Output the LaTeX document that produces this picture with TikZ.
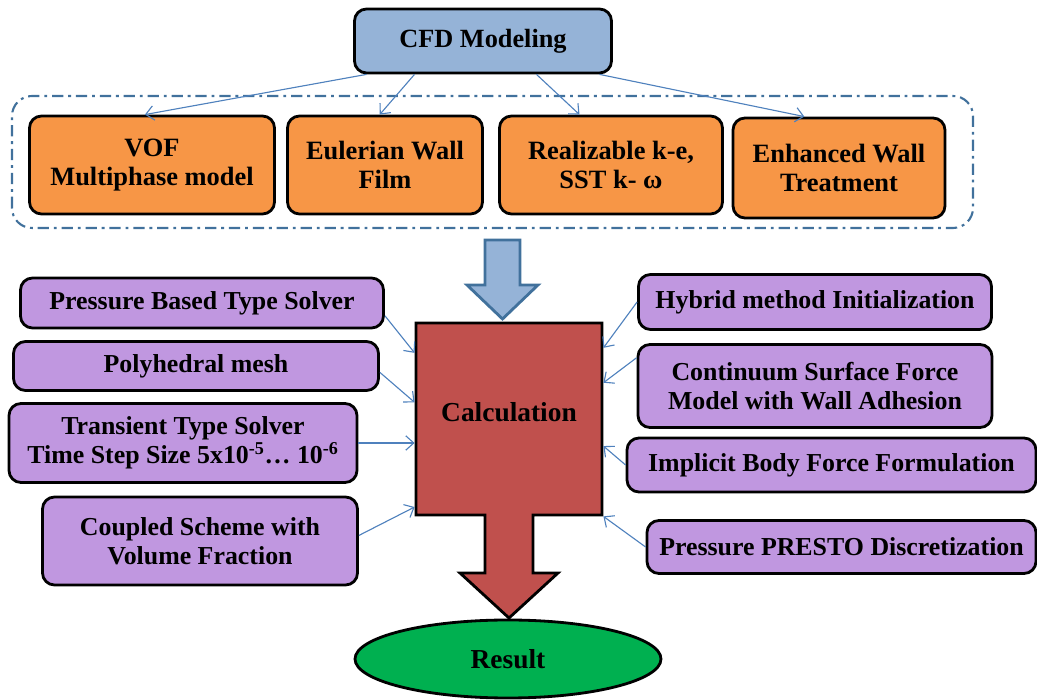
\documentclass[tikz,border=0pt]{standalone}
\usepackage{fontspec}
\setmainfont{Liberation Serif}
\usetikzlibrary{positioning,arrows.meta,shapes.geometric}
\definecolor{cfdblue}{HTML}{95B3D7}
\definecolor{edgeblue}{HTML}{41719C}
\definecolor{linkblue}{HTML}{4F81BD}
\definecolor{modorange}{HTML}{F79646}
\definecolor{setpurple}{HTML}{C097E0}
\definecolor{calcred}{HTML}{C0504D}
\definecolor{resgreen}{HTML}{00B050}
\tikzset{
  box/.style={draw=black, line width=2pt, rounded corners=0.3cm, align=center,
    inner sep=2pt, font=\fontsize{18.4}{20.5}\selectfont\bfseries},
  modelbox/.style={box, fill=modorange, minimum height=2.45cm,
    font=\fontsize{18.8}{20.5}\selectfont\bfseries},
  setbox/.style={box, fill=setpurple},
  feed/.style={-{Straight Barb[length=2mm,width=3.6mm]}, line width=0.8pt, linkblue},
}

\begin{document}
\begin{tikzpicture}
  \useasboundingbox (0,0) rectangle (25.925,17.5);
  % group of physical models
  \draw[edgeblue, line width=1.5pt, rounded corners=0.5cm,
    dash pattern=on 8pt off 3.5pt on 2pt off 3.5pt] (0.3,11.8) rectangle (24.325,15.1);
  \node[box, fill=cfdblue, minimum width=6.425cm, minimum height=1.6cm,
    font=\fontsize{18.7}{20.5}\selectfont\bfseries] (cfd) at (12.075,16.475) {CFD Modeling};
  \node[modelbox, minimum width=6.125cm] (vof) at (3.8,13.375) {VOF\\Multiphase model};
  \node[modelbox, minimum width=4.875cm] (wallfilm) at (9.625,13.375) {Eulerian Wall\\Film};
  \node[modelbox, minimum width=5.575cm] (turb) at (15.275,13.375) {Realizable k-e,\\SST k- ω};
  \node[modelbox, minimum width=5.3cm, minimum height=2.5cm] (walltreat) at (20.975,13.3) {Enhanced Wall\\Treatment};
  \draw[feed] (cfd.196.5) -- (vof.98);
  \draw[feed] (cfd.206.9) -- (wallfilm.96);
  \draw[feed] (cfd.328.4) -- (turb.122);
  \draw[feed] (cfd.344.7) -- (walltreat.124);
  % big arrow down to the solver
  \draw[edgeblue, line width=2pt, fill=cfdblue, line join=miter]
    (12.125,11.5) -- (13.0,11.5) -- (13.0,10.375) -- (13.45,10.375) -- (12.5625,9.525)
    -- (11.675,10.375) -- (12.125,10.375) -- cycle;
  % calculation block with its arrow
  \draw[black, line width=2pt, fill=calcred, line join=miter]
    (10.4,9.425) -- (15.05,9.425) -- (15.05,4.625) -- (13.325,4.625) -- (13.325,3.175)
    -- (13.95,3.175) -- (12.725,2.05) -- (11.5,3.175) -- (12.125,3.175) -- (12.125,4.625)
    -- (10.4,4.625) -- cycle;
  \node[minimum width=4.65cm, minimum height=4.8cm, inner sep=0, outer sep=1pt,
    label={[yshift=0.18cm, font=\fontsize{19.5}{22}\selectfont\bfseries]center:Calculation}] (calc) at (12.725,7.025) {};
  \node[ellipse, draw=black, line width=2pt, fill=resgreen, minimum width=7.65cm, minimum height=1.95cm,
    inner sep=0, font=\fontsize{19.5}{22}\selectfont\bfseries] (result) at (12.7,1.025) {Result};
  % solver settings, left
  \node[setbox, minimum width=9.075cm, minimum height=1.25cm] (pbsolver) at (5.05,9.925) {Pressure Based Type Solver};
  \node[setbox, minimum width=9.125cm, minimum height=1.225cm] (polymesh) at (4.9,8.35) {Polyhedral mesh};
  \node[setbox, minimum width=8.7cm, minimum height=1.975cm] (transient) at (4.575,6.425)
    {Transient Type Solver\\Time Step Size 5x10\textsuperscript{-5}… 10\textsuperscript{-6}};
  \node[setbox, minimum width=7.875cm, minimum height=2.2cm] (coupled) at (5.0,3.975) {Coupled Scheme with\\Volume Fraction};
  % solver settings, right
  \node[setbox, minimum width=8.825cm, minimum height=1.375cm] (hybrid) at (20.375,9.95) {Hybrid method Initialization};
  \node[setbox, minimum width=8.85cm, minimum height=2.075cm] (csf) at (20.375,7.85) {Continuum Surface Force\\Model with Wall Adhesion};
  \node[setbox, minimum width=10.225cm, minimum height=1.35cm] (implicit) at (20.7875,5.875) {Implicit Body Force Formulation};
  \node[setbox, minimum width=9.725cm, minimum height=1.325cm] (presto) at (21.0375,3.825) {Pressure PRESTO Discretization};
  \draw[feed] (pbsolver.-4.7) -- (calc.145.9);
  \draw[feed] (polymesh.-2.2) -- (calc.170.2);
  \draw[feed] (transient.east) -- (transient.east -| calc.west);
  \draw[feed] (coupled.2) -- (calc.223.1);
  \draw[feed] (hybrid.west) -- (calc.37.5);
  \draw[feed] (csf.171.3) -- (calc.21.5);
  \draw[feed] (implicit.west) -- (calc.-16.6);
  \draw[feed] (presto.west) -- (calc.south east);
\end{tikzpicture}
\end{document}
